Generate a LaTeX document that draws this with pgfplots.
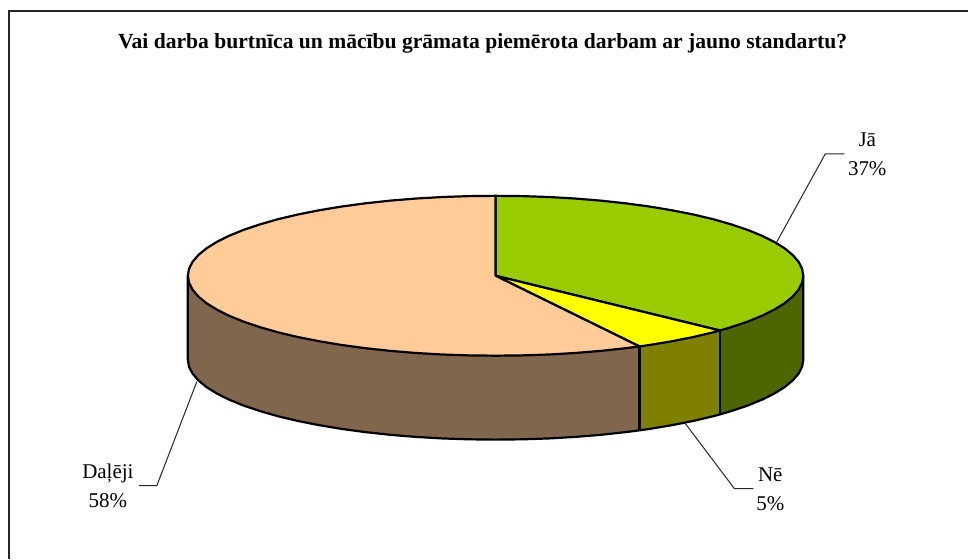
\documentclass[border=0pt]{standalone}
\usepackage{pgfplots}
\pgfplotsset{compat=1.18}
\usepackage{fontspec}
\setmainfont{Liberation Serif}
\definecolor{jaTop}{HTML}{99CC00}
\definecolor{jaSide}{HTML}{4D6600}
\definecolor{neTop}{HTML}{FFFF00}
\definecolor{neSide}{HTML}{808000}
\definecolor{daTop}{HTML}{FFCC99}
\definecolor{daSide}{HTML}{80664D}
\begin{document}
\begin{tikzpicture}
\begin{axis}[
  scale only axis, width=969pt, height=559pt,
  xmin=0, xmax=969, ymin=0, ymax=559, y dir=reverse,
  axis lines=none, clip=false,
  every axis plot/.append style={line join=round},
]
% page extent
\addplot[draw=none, forget plot] coordinates {(0,0)(969,559)};
% frame
\addplot[black!85, line width=1.7pt, line join=miter] coordinates {(9,559) (9,11) (969,11)};
% side faces
\addplot[fill=daSide, draw=none] coordinates {(640,346.7)(626.2,348.5)(601.3,351.2)(575.7,353.3)(549.5,354.8)(522.9,355.7)(496,356)(469.1,355.7)(442.5,354.8)(416.3,353.3)(390.7,351.2)(365.8,348.5)(342,345.3)(319.3,341.5)(298,337.3)(278.2,332.6)(260.1,327.4)(243.7,321.9)(229.3,316)(216.9,309.8)(206.6,303.4)(198.5,296.7)(192.7,289.9)(189.2,283)(188,276)
(188,360)(189.2,367)(192.7,373.9)(198.5,380.7)(206.6,387.4)(216.9,393.8)(229.3,400)(243.7,405.9)(260.1,411.4)(278.2,416.6)(298,421.3)(319.3,425.5)(342,429.3)(365.8,432.5)(390.7,435.2)(416.3,437.3)(442.5,438.8)(469.1,439.7)(496,440)(522.9,439.7)(549.5,438.8)(575.7,437.3)(601.3,435.2)(626.2,432.5)(640,430.7)} -- cycle;
\addplot[fill=neSide, draw=none] coordinates {(720.5,330.8)(713.8,332.6)(694,337.3)(672.7,341.5)(650,345.3)(640,346.7)(640,430.7)(650,429.3)(672.7,425.5)(694,421.3)(713.8,416.6)(720.5,414.8)} -- cycle;
\addplot[fill=jaSide, draw=none] coordinates {(804,276)(802.8,283)(799.3,289.9)(793.5,296.7)(785.4,303.4)(775.1,309.8)(762.7,316)(748.3,321.9)(731.9,327.4)(720.5,330.8)(720.5,414.8)(731.9,411.4)(748.3,405.9)(762.7,400)(775.1,393.8)(785.4,387.4)(793.5,380.7)(799.3,373.9)(802.8,367)(804,360)} -- cycle;
% side outlines
\addplot[black, line width=2.2pt] coordinates {(188,276)(188,360)(189.2,367)(192.7,373.9)(198.5,380.7)(206.6,387.4)(216.9,393.8)(229.3,400)(243.7,405.9)(260.1,411.4)(278.2,416.6)(298,421.3)(319.3,425.5)(342,429.3)(365.8,432.5)(390.7,435.2)(416.3,437.3)(442.5,438.8)(469.1,439.7)(496,440)(522.9,439.7)(549.5,438.8)(575.7,437.3)(601.3,435.2)(626.2,432.5)(640,430.7)(650,429.3)(672.7,425.5)(694,421.3)(713.8,416.6)(720.5,414.8)(731.9,411.4)(748.3,405.9)(762.7,400)(775.1,393.8)(785.4,387.4)(793.5,380.7)(799.3,373.9)(802.8,367)(804,360)(804,276)};
\addplot[black, line width=2.2pt] coordinates {(640,346.7)(640,430.7)};
\addplot[black, line width=2.2pt] coordinates {(720.5,330.8)(720.5,414.8)};
% top faces
\addplot[fill=jaTop, draw=black, line width=2.2pt] coordinates {(496,276)(496,196)(522.9,196.3)(549.5,197.2)(575.7,198.7)(601.3,200.8)(626.2,203.5)(650,206.7)(672.7,210.5)(694,214.7)(713.8,219.4)(731.9,224.6)(748.3,230.1)(762.7,236)(775.1,242.2)(785.4,248.6)(793.5,255.3)(799.3,262.1)(802.8,269)(804,276)(802.8,283)(799.3,289.9)(793.5,296.7)(785.4,303.4)(775.1,309.8)(762.7,316)(748.3,321.9)(731.9,327.4)(720.5,330.8)} -- cycle;
\addplot[fill=neTop, draw=black, line width=2.2pt] coordinates {(496,276)(720.5,330.8)(713.8,332.6)(694,337.3)(672.7,341.5)(650,345.3)(640,346.7)} -- cycle;
\addplot[fill=daTop, draw=black, line width=2.2pt] coordinates {(496,276)(640,346.7)(626.2,348.5)(601.3,351.2)(575.7,353.3)(549.5,354.8)(522.9,355.7)(496,356)(469.1,355.7)(442.5,354.8)(416.3,353.3)(390.7,351.2)(365.8,348.5)(342,345.3)(319.3,341.5)(298,337.3)(278.2,332.6)(260.1,327.4)(243.7,321.9)(229.3,316)(216.9,309.8)(206.6,303.4)(198.5,296.7)(192.7,289.9)(189.2,283)(188,276)(189.2,269)(192.7,262.1)(198.5,255.3)(206.6,248.6)(216.9,242.2)(229.3,236)(243.7,230.1)(260.1,224.6)(278.2,219.4)(298,214.7)(319.3,210.5)(342,206.7)(365.8,203.5)(390.7,200.8)(416.3,198.7)(442.5,197.2)(469.1,196.3)(496,196)} -- cycle;
% leaders
\addplot[black!85, line width=1pt] coordinates {(777,243)(826,154)(845,154)};
\addplot[black!85, line width=1pt] coordinates {(686,424)(735,489)(754,489)};
\addplot[black!85, line width=1pt] coordinates {(197,382)(157,486)(139,486)};
% text
\node[font=\fontsize{21.6pt}{24pt}\selectfont\bfseries, anchor=base] at (axis cs:483,49) {Vai darba burtnīca un mācību grāmata piemērota darbam ar jauno standartu?};
\node[font=\fontsize{21pt}{24pt}\selectfont, anchor=base] at (axis cs:868,147) {Jā};
\node[font=\fontsize{21pt}{24pt}\selectfont, anchor=base] at (axis cs:868,176) {37\%};
\node[font=\fontsize{21pt}{24pt}\selectfont, anchor=base] at (axis cs:771,482) {Nē};
\node[font=\fontsize{21pt}{24pt}\selectfont, anchor=base] at (axis cs:771,511) {5\%};
\node[font=\fontsize{21pt}{24pt}\selectfont, anchor=base] at (axis cs:108,479) {Daļēji};
\node[font=\fontsize{21pt}{24pt}\selectfont, anchor=base] at (axis cs:108,508) {58\%};
\end{axis}
\end{tikzpicture}
\end{document}
